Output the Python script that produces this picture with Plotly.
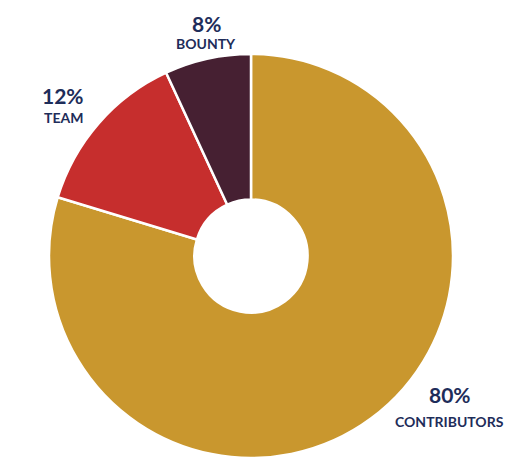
import plotly.graph_objects as go

# Data
categories = ["CONTRIBUTORS", "TEAM", "BOUNTY"]
shares = [79.7, 13.4, 6.9]          # slice sizes as drawn
pct_labels = ["80%", "12%", "8%"]   # printed labels
colors = ["#C9972E", "#C62E2D", "#462032"]

W, H = 531, 468
OFF = 8  # page body margin
L, R, T, B = 49 - OFF, 78 + OFF, 54 - OFF, 10 + OFF
PW, PH = W - L - R, H - T - B

def px(x):
    return (x - OFF - L) / PW

def py(y):
    return 1 - (y - OFF - T) / PH

fig = go.Figure(go.Pie(
    labels=categories,
    values=shares,
    sort=False,
    direction="clockwise",
    rotation=0,
    hole=0.28,
    marker=dict(colors=colors, line=dict(color="white", width=2.5)),
    textinfo="none",
    hoverinfo="label+percent",
    showlegend=False,
))

navy = "#1E2D5A"
fontfam = "Lato, 'Open Sans', sans-serif"
label_pos = {
    "CONTRIBUTORS": ((450, 394), (449, 421)),
    "TEAM": ((63, 95), (63, 117)),
    "BOUNTY": ((206, 24), (206, 44)),
}
annotations = []
for cat, pct in zip(categories, pct_labels):
    (x1, y1), (x2, y2) = label_pos[cat]
    annotations.append(dict(x=px(x1), y=py(y1), xref="paper", yref="paper",
                            text=f"<b>{pct}</b>", showarrow=False,
                            xanchor="center", yanchor="middle",
                            font=dict(family=fontfam, size=21, color=navy, weight=900)))
    annotations.append(dict(x=px(x2), y=py(y2), xref="paper", yref="paper",
                            text=f"<b>{cat}</b>", showarrow=False,
                            xanchor="center", yanchor="middle",
                            font=dict(family=fontfam, size=14, color=navy, weight=900)))

fig.update_layout(
    width=W, height=H,
    margin=dict(l=L, r=R, t=T, b=B, pad=0),
    paper_bgcolor="white", plot_bgcolor="white",
    annotations=annotations,
)

fig.write_html("out.html")
